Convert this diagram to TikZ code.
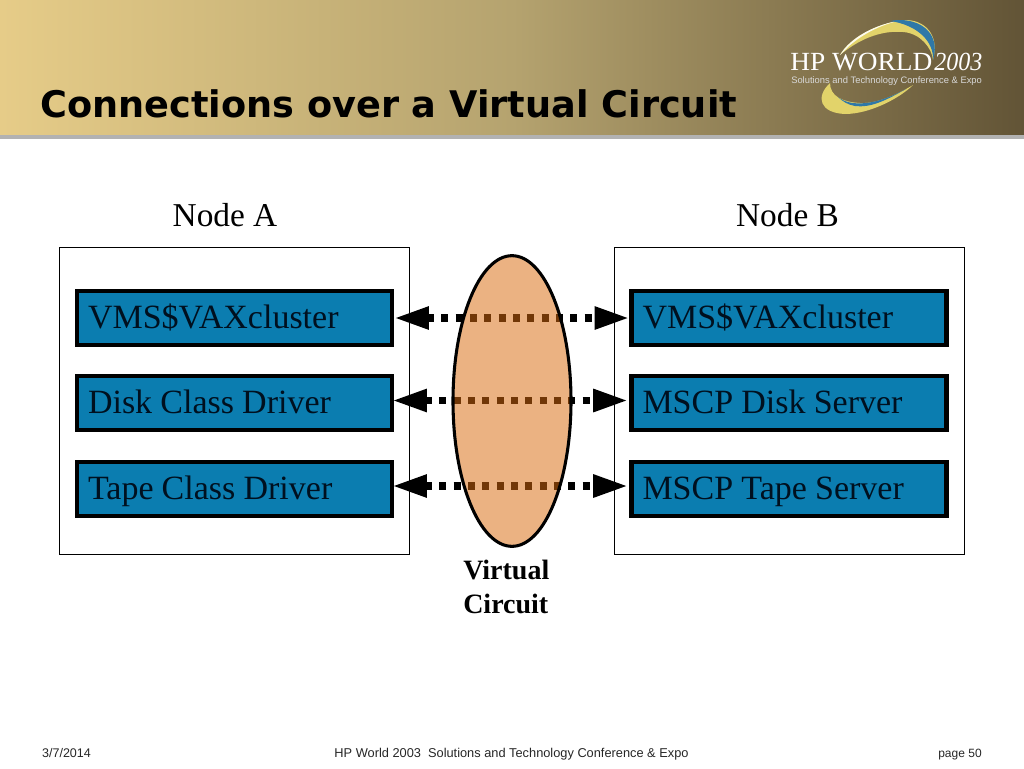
\documentclass[tikz,border=0pt]{standalone}
\usepackage{fontspec}
\setmainfont{Liberation Serif}
\newfontfamily\titlefont{DejaVu Sans}
\newfontfamily\footfont{Liberation Sans}
\usetikzlibrary{arrows.meta,shapes.geometric}
\definecolor{boxblue}{HTML}{0B7DB0}
\definecolor{bandlight}{HTML}{E6CC88}
\definecolor{bandmid}{HTML}{B5A36F}
\definecolor{banddark}{HTML}{625436}
\definecolor{circuitfill}{rgb}{0.85,0.42,0.06}
\definecolor{textnavy}{HTML}{00101F}
\definecolor{logoyellow}{HTML}{E2D36A}
\definecolor{logoblue}{HTML}{2F78A8}

\begin{document}
\begin{tikzpicture}
        [x=0.75pt,y=-0.75pt,
          framedecorate/.style={draw=black,line width=0.75pt,fill=white,minimum width=262.5pt,minimum height=230.25pt,inner sep=0pt},
          layerdecorate/.style={draw=black,line width=3.4pt,fill=boxblue,text=textnavy,text width=219.75pt,inner xsep=8.25pt,inner ysep=0pt,minimum height=40.5pt,font=\fontsize{25.5}{28}\selectfont,text height=19pt,text depth=4pt},
          headdecorate/.style={font=\fontsize{25}{28}\selectfont},
          linkdecorate/.style={line width=5.6pt,dash pattern=on 5.3pt off 5.45pt,
            {Triangle[length=26pt,width=16pt]}-{Triangle[length=26pt,width=16pt]}},
          footdecorate/.style={anchor=base,inner sep=0pt,text=black!85}]
        \useasboundingbox (0,0) rectangle (1024,768);
        %% banner
        \fill[left color=bandlight,right color=banddark,middle color=bandmid] (0,0) rectangle (1024,135);
        \fill[gray!60] (0,135) rectangle (1024,139);
        \node (title) at (40,103.5) [anchor=west,inner sep=0pt,font=\titlefont\bfseries\fontsize{27.5}{30}\selectfont] {Connections over a Virtual Circuit};
        %% logo
        \fill[logoyellow] (840,55) .. controls (850,38) and (875,24) .. (903,20) .. controls (925,19) and (940,35) .. (933,60) .. controls (932,48) and (920,33) .. (903,32) .. controls (880,30) and (858,40) .. (840,55);
        \fill[white!90!logoyellow] (840,55) .. controls (850,38) and (875,24) .. (903,20) .. controls (880,24) and (860,36) .. (848,47);
        \fill[logoblue] (890,21) .. controls (915,16) and (942,30) .. (933,60) .. controls (934,42) and (918,25) .. (890,21);
        \fill[logoyellow] (830,83) .. controls (815,97) and (820,113) .. (845,114) .. controls (870,114) and (900,98) .. (913,85) .. controls (895,96) and (875,104) .. (860,103) .. controls (842,102) and (830,96) .. (830,83);
        \fill[logoblue] (838,97) .. controls (850,107) and (875,106) .. (906,89) .. controls (885,101) and (870,108) .. (855,106) .. controls (848,105) and (842,101) .. (838,97);
        \node (logohp) at (790,70) [anchor=base west,inner sep=0pt,text=white] {\resizebox{106.5pt}{13pt}{HP WORLD}};
        \node (logoyear) at (934,70) [anchor=base west,inner sep=0pt,text=white] {\resizebox{36pt}{13pt}{\textit{2003}}};
        \node (logosub) at (791,81.5) [anchor=west,inner sep=0pt,text=white!85!black,font=\footfont] {\resizebox{143pt}{!}{Solutions and Technology Conference \& Expo}};
        %% node frames and headings
        \node (framea) at (234.5,400.5) [framedecorate] {};
        \node (frameb) at (789,400.5) [framedecorate] {};
        \node (heada) at (225,215) [headdecorate] {Node A};
        \node (headb) at (787.5,215) [headdecorate] {Node B};
        %% layers
        \foreach \nodename/\x/\y/\name in {a1/234.5/318/VMS\$VAXcluster, a2/234.5/403/Disk Class Driver, a3/234.5/489/Tape Class Driver,
          b1/789/318/VMS\$VAXcluster, b2/789/403/MSCP Disk Server, b3/789/489/MSCP Tape Server}
        {
          \node (\nodename) at (\x,\y) [layerdecorate] {\spaceskip=0.24em\relax\name};
        }
        %% connections
        \foreach \startnode/\endnode/\ypos/\gapl/\gapr in {a1/b1/318/0pt/0pt, a2/b2/400.5/-1.5pt/1pt, a3/b3/486/-1.5pt/1pt}
        {
          \draw[linkdecorate,shorten <=\gapl,shorten >=\gapr] (\startnode.east |- 0,\ypos) -- (\endnode.west |- 0,\ypos);
        }
        %% virtual circuit
        \node (circuit) at (512,401) [ellipse,draw=black,line width=2.3pt,fill=circuitfill,fill opacity=0.52,draw opacity=1,minimum width=88.5pt,minimum height=218pt,inner sep=0pt] {};
        \node (circuitname) at (463,587) [anchor=west,align=left,inner sep=0pt,font=\bfseries\fontsize{21}{25.2}\selectfont] {Virtual\\Circuit};
        %% footer
        \node (date) at (66.5,757) [footdecorate,font=\footfont\fontsize{9.4}{11}\selectfont] {3/7/2014};
        \node (conf) at (511.5,757) [footdecorate,font=\footfont\fontsize{9.6}{11}\selectfont] {HP World 2003\ \ Solutions and Technology Conference \& Expo};
        \node (page) at (960,757) [footdecorate,font=\footfont\fontsize{9}{11}\selectfont] {page 50};
        \end{tikzpicture}
\end{document}
